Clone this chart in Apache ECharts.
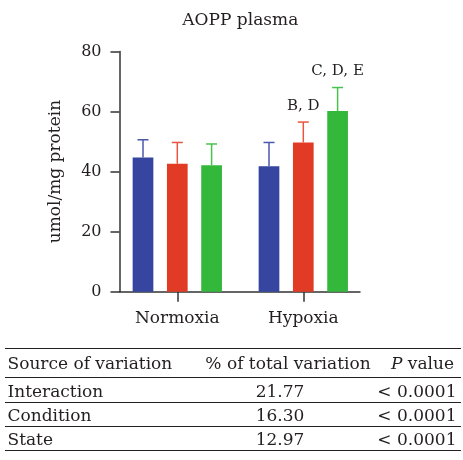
<!DOCTYPE html>
<html>
<head>
<meta charset="utf-8">
<script src="https://cdn.jsdelivr.net/npm/echarts/dist/echarts.min.js"></script>
<style>
html,body{margin:0;padding:0;background:#fff;}
#chart{position:absolute;left:0;top:0;width:463px;height:340px;}
#tbl{position:absolute;left:0;top:0;width:463px;height:460px;font-family:'DejaVu Serif';font-size:17px;color:#231f20;}
.hl{position:absolute;left:5px;width:456px;height:0;border-top:1.5px solid #231f20;}
.t{position:absolute;white-space:nowrap;line-height:20px;height:20px;}
</style>
</head>
<body>
<div id="chart"></div>
<div id="tbl"></div>
<script>
// ---- chart data ----
const categories = ['Normoxia', 'Hypoxia'];
const groupNames = ['Group A', 'Group B', 'Group C'];
const blueMeans = [44.7, 41.8];
const blueErrors = [5.9, 7.9];
const redMeans = [42.6, 49.7];
const redErrors = [7.1, 6.8];
const greenMeans = [42.1, 60.2];
const greenErrors = [7.1, 7.8];
const redLabels = ['', 'B, D'];
const greenLabels = ['', 'C, D, E'];
const blueLabels = ['', ''];
const yTicks = [0, 20, 40, 60, 80];
const chartTitle = 'AOPP plasma';
const yAxisName = 'umol/mg protein';

// ---- table data ----
const tableHeader = ['Source of variation', '% of total variation', 'P value'];
const sources = ['Interaction', 'Condition', 'State'];
const percents = ['21.77', '16.30', '12.97'];
const pValues = ['< 0.0001', '< 0.0001', '< 0.0001'];

// ---- styles ----
const FONT = 'DejaVu Serif';
const TXT = '#231f20';
const AX = '#333333';
const barColors = ['#3545a0', '#e23b25', '#33b83b'];
const errColors = ['#4b59ab', '#e9553f', '#47c24e'];
const BAR_W = 20.7;
const GAP_RATIO = 0.657;

const means = [blueMeans, redMeans, greenMeans];
const errs = [blueErrors, redErrors, greenErrors];
const labels = [blueLabels, redLabels, greenLabels];

const errData = [];
for (let k = 0; k < 3; k++) {
  for (let i = 0; i < categories.length; i++) {
    errData.push([i, means[k][i], errs[k][i], k, labels[k][i]]);
  }
}

const chart = echarts.init(document.getElementById('chart'), null, {renderer: 'canvas'});
const axisLineStyle = {color: AX, width: 1.5};

const option = {
  animation: false,
  backgroundColor: '#fff',
  graphic: [{
    type: 'text', x: 240.3, y: 21,
    style: {text: chartTitle, align: 'center', verticalAlign: 'middle', font: '17px "DejaVu Serif"', fill: TXT}
  }],
  grid: [
    {left: 114.3, width: 252, top: 51.5, height: 240.2},
    {left: 119.5, width: 240.5, top: 51.5, height: 240.2}
  ],
  xAxis: [
    {
      type: 'category', gridIndex: 0, data: categories,
      axisLine: {show: false},
      axisTick: {show: true, alignWithLabel: true, length: 10, lineStyle: axisLineStyle},
      axisLabel: {margin: 18, fontFamily: FONT, fontSize: 17, color: TXT},
      splitLine: {show: false}
    },
    {
      type: 'value', gridIndex: 1, min: 0, max: 1,
      axisLine: {show: true, lineStyle: axisLineStyle},
      axisTick: {show: false}, axisLabel: {show: false}, splitLine: {show: false}
    }
  ],
  yAxis: [
    {type: 'value', gridIndex: 0, min: yTicks[0], max: yTicks[yTicks.length - 1], interval: yTicks[1] - yTicks[0], show: false},
    {
      type: 'value', gridIndex: 1, min: yTicks[0], max: yTicks[yTicks.length - 1], interval: yTicks[1] - yTicks[0],
      axisLine: {show: true, lineStyle: axisLineStyle},
      axisTick: {show: true, length: 9, lineStyle: axisLineStyle},
      axisLabel: {margin: 18, fontFamily: FONT, fontSize: 16, color: TXT},
      splitLine: {show: false},
      name: yAxisName, nameLocation: 'middle', nameGap: 55,
      nameTextStyle: {fontFamily: FONT, fontSize: 17, color: TXT}
    }
  ],
  series: [
    ...[0, 1, 2].map(k => ({
      type: 'bar', name: groupNames[k], xAxisIndex: 0, yAxisIndex: 0,
      data: means[k], barWidth: BAR_W, barGap: (GAP_RATIO * 100) + '%',
      itemStyle: {color: barColors[k]}
    })),
    {
      type: 'custom', xAxisIndex: 0, yAxisIndex: 0, data: errData, z: 3,
      renderItem: function (params, api) {
        const cat = api.value(0), m = api.value(1), e = api.value(2), k = api.value(3);
        const lab = errData[params.dataIndex][4];
        const base = api.coord([cat, m]);
        const top = api.coord([cat, m + e]);
        const x = base[0] + (k - 1) * BAR_W * (1 + GAP_RATIO);
        const col = errColors[k];
        const children = [
          {type: 'line', shape: {x1: x, y1: base[1], x2: x, y2: top[1]}, style: {stroke: col, lineWidth: 1.5}},
          {type: 'line', shape: {x1: x - 5.5, y1: top[1], x2: x + 5.5, y2: top[1]}, style: {stroke: col, lineWidth: 1.5}}
        ];
        if (lab) {
          children.push({type: 'text', x: x, y: top[1] - 16,
            style: {text: lab, align: 'center', verticalAlign: 'middle', font: '15px "DejaVu Serif"', fill: TXT}});
        }
        return {type: 'group', children: children};
      }
    }
  ]
};
chart.setOption(option);

// ---- table ----
const tbl = document.getElementById('tbl');
const lineYs = [349, 377.7, 402.7, 426.7, 450.5];
lineYs.forEach(y => {
  const d = document.createElement('div');
  d.className = 'hl';
  d.style.top = (y - 0.75) + 'px';
  tbl.appendChild(d);
});
function addText(html, y, opts) {
  const d = document.createElement('div');
  d.className = 't';
  d.innerHTML = html;
  d.style.top = (y - 10) + 'px';
  if (opts.left !== undefined) { d.style.left = opts.left + 'px'; }
  if (opts.center !== undefined) { d.style.left = (opts.center - 120) + 'px'; d.style.width = '240px'; d.style.textAlign = 'center'; }
  if (opts.right !== undefined) { d.style.right = (463 - opts.right) + 'px'; d.style.textAlign = 'right'; }
  tbl.appendChild(d);
}
const rowYs = [363, 390.5, 414.7, 438.5];
addText(tableHeader[0], rowYs[0], {left: 7.5});
addText(tableHeader[1], rowYs[0], {center: 288});
addText('<i>' + tableHeader[2].split(' ')[0] + '</i> ' + tableHeader[2].split(' ').slice(1).join(' '), rowYs[0], {right: 454});
for (let r = 0; r < sources.length; r++) {
  addText(sources[r], rowYs[r + 1], {left: 7.5});
  addText(percents[r], rowYs[r + 1], {center: 280});
  addText(pValues[r], rowYs[r + 1], {right: 456.5});
}
</script>
</body>
</html>
